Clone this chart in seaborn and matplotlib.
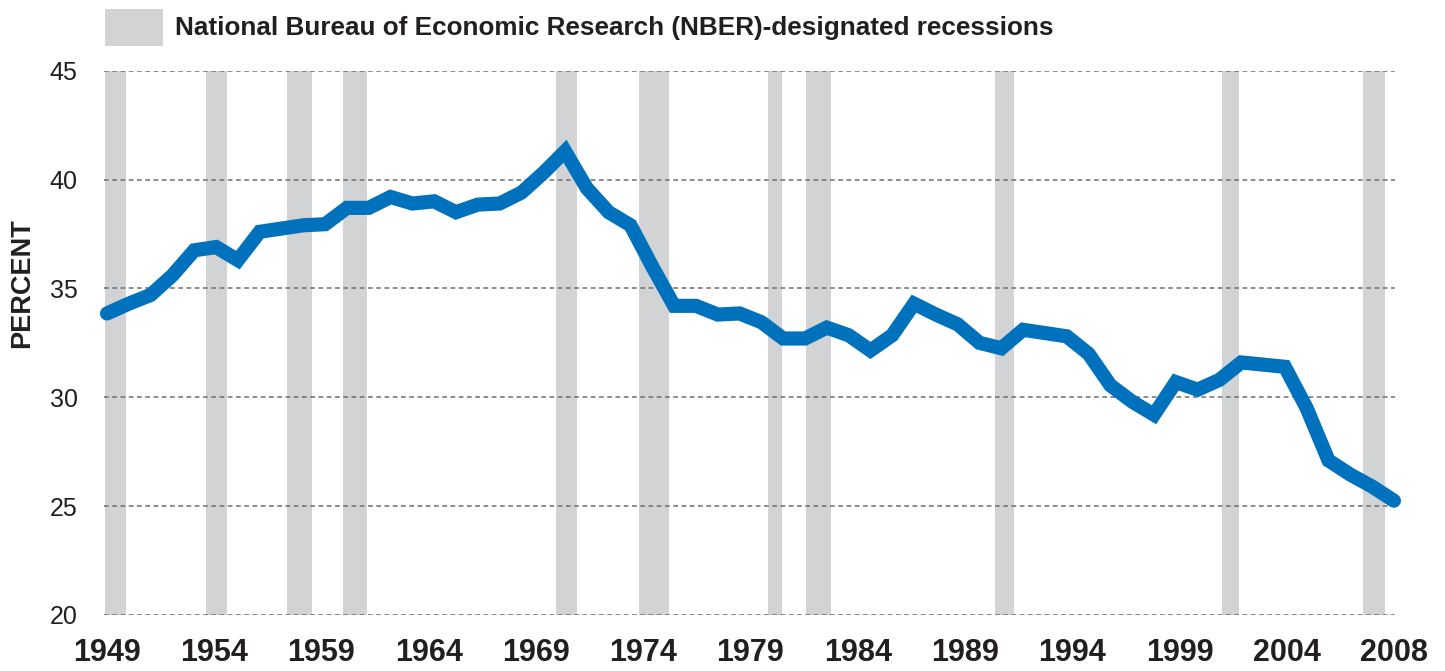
import numpy as np
import pandas as pd
import matplotlib.pyplot as plt
import seaborn as sns
from matplotlib.patches import Rectangle


# share of total, percent (60 annual points spread over the 1949-2009 axis)
share = [33.85, 34.3, 34.7, 35.6, 36.75, 36.9, 36.3, 37.6, 37.75, 37.9,
         37.95, 38.7, 38.7, 39.2, 38.9, 39.0, 38.5, 38.85, 38.9, 39.4,
         40.3, 41.3, 39.6, 38.5, 37.9, 36.0, 34.2, 34.2, 33.8, 33.85,
         33.45, 32.7, 32.7, 33.2, 32.85, 32.15, 32.85, 34.3, 33.8, 33.35,
         32.5, 32.25, 33.1, 32.95, 32.8, 32.0, 30.55, 29.8, 29.2, 30.7,
         30.35, 30.8, 31.6, 31.5, 31.4, 29.5, 27.1, 26.45, 25.9, 25.25]

# NBER recessions (start, end) as drawn
recessions = [(1948.9, 1949.9), (1953.6, 1954.6), (1957.4, 1958.55),
              (1960.0, 1961.1), (1969.95, 1970.9), (1973.8, 1975.2),
              (1979.8, 1980.45), (1981.6, 1982.75), (1990.4, 1991.3),
              (2001.0, 2001.8), (2007.55, 2008.6)]

tick_years = [1949, 1954, 1959, 1964, 1969, 1974, 1979, 1984, 1989, 1994,
              1999, 2004, 2009]
tick_labels = ["1949", "1954", "1959", "1964", "1969", "1974", "1979", "1984",
               "1989", "1994", "1999", "2004", "2008"]
y_ticks = [20, 25, 30, 35, 40, 45]

legend_text = "National Bureau of Economic Research (NBER)-designated recessions"

sns.set_style("white")
plt.rcParams["font.family"] = ["Liberation Sans", "DejaVu Sans"]

W, H = 1445, 671
fig = plt.figure(figsize=(W / 100, H / 100), dpi=100)
ax = fig.add_axes([104 / W, 1 - 615 / H, (1395 - 104) / W, (615 - 70.7) / H])

df = pd.DataFrame({"x": np.linspace(tick_years[0], tick_years[-1], len(share)),
                   "share": share})

for start, end in recessions:
    ax.axvspan(start, end, color="#d1d3d4", lw=0, zorder=0)
for y in y_ticks:
    ax.axhline(y, color="#6d6e71", lw=1.1, ls=(0, (3.1, 2.3)), zorder=1)

sns.lineplot(data=df, x="x", y="share", ax=ax, color="#0071bc", lw=10.2,
             solid_capstyle="round", solid_joinstyle="miter",
             clip_on=False, zorder=3)

ax.set_xlim(1948.86, 2009.05)
ax.set_ylim(20, 45)
ax.set_xticks(tick_years, tick_labels)
ax.set_yticks(y_ticks)
ax.set_xlabel("")
ax.set_ylabel("")
ax.tick_params(axis="x", length=0, pad=16.5, labelsize=22, labelcolor="#231f20")
ax.tick_params(axis="y", length=0, pad=19, labelsize=18, labelcolor="#231f20")
for lab in ax.get_xticklabels():
    lab.set_fontweight("bold")
sns.despine(ax=ax, left=True, bottom=True)

fig.text(22 / W, 1 - 283 / H, "PERCENT", rotation=90, ha="center", va="center",
         fontsize=19.5, fontweight="bold", color="#231f20")

fig.patches.append(Rectangle((105 / W, 1 - 46 / H), 58 / W, 37 / H,
                             transform=fig.transFigure, color="#d1d3d4", lw=0))
fig.text(175 / W, 1 - 27.5 / H, legend_text, ha="left", va="center",
         fontsize=18.8, fontweight="bold", color="#231f20")

fig.savefig("out.png", dpi=100)
